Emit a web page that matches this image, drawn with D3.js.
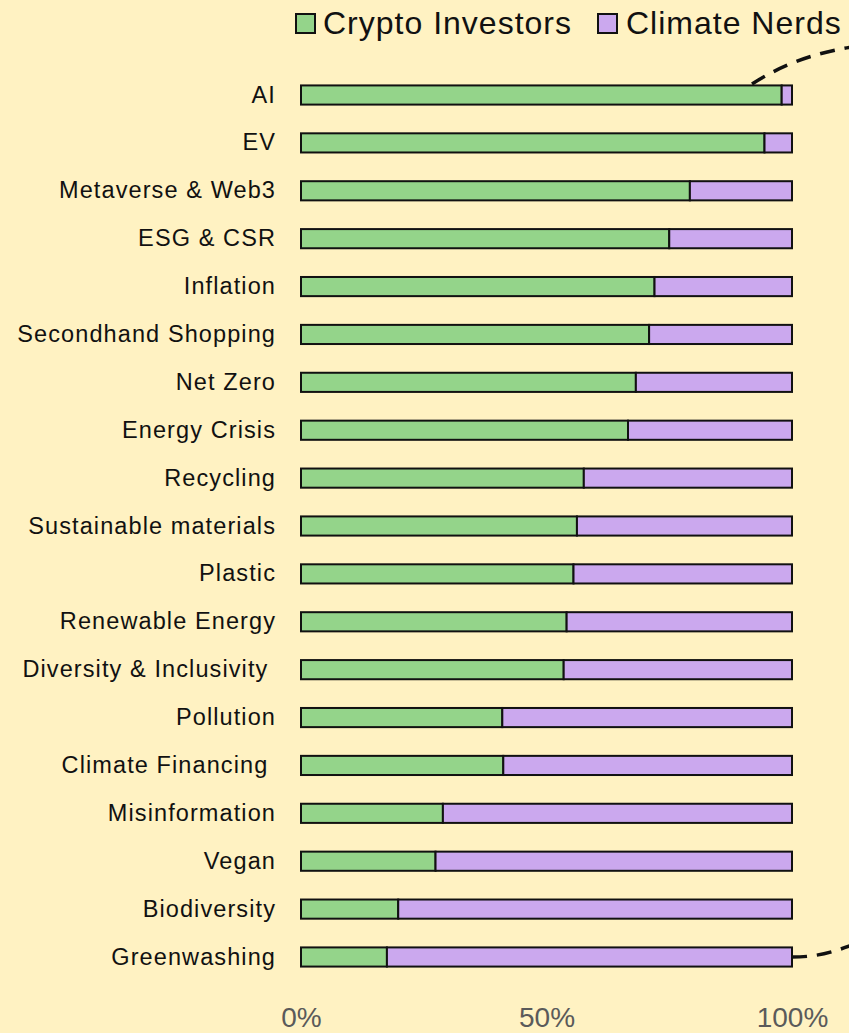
<!DOCTYPE html>
<html>
<head>
<meta charset="utf-8">
<script src="https://cdn.jsdelivr.net/npm/d3@7"></script>
<style>
  html, body { margin: 0; padding: 0; background: #FFF2C2; }
  svg { display: block; }
  text { font-family: "Liberation Sans", Arial, sans-serif; }
</style>
</head>
<body>
<svg id="chart" width="849" height="1033"></svg>
<script>
// Topics, top to bottom
const topics = [
  "AI", "EV", "Metaverse & Web3", "ESG & CSR", "Inflation",
  "Secondhand Shopping", "Net Zero", "Energy Crisis", "Recycling",
  "Sustainable materials", "Plastic", "Renewable Energy",
  "Diversity & Inclusivity ", "Pollution", "Climate Financing ",
  "Misinformation", "Vegan", "Biodiversity", "Greenwashing"
];

// Share of mentions by crypto investors (the rest belongs to climate nerds)
const cryptoShare = [
  0.979, 0.944, 0.792, 0.750, 0.720,
  0.709, 0.682, 0.666, 0.576,
  0.562, 0.555, 0.541,
  0.535, 0.410, 0.412,
  0.289, 0.274, 0.198, 0.175
];
const climateShare = cryptoShare.map(v => 1 - v);

const seriesNames = ["Crypto Investors", "Climate Nerds"];
const seriesColors = ["#94D48A", "#CBA8EE"];
const tickValues = [0, 0.5, 1];
const tickLabels = ["0%", "50%", "100%"];

const svg = d3.select("#chart");
const W = 849, H = 1033;

svg.append("rect").attr("width", W).attr("height", H).attr("fill", "#FFF2C2");

const x = d3.scaleLinear().domain([0, 1]).range([301, 792]);
const y = d3.scaleBand().domain(topics).range([56.7, 995.3]).paddingInner(0.6).paddingOuter(0.6);

const rows = topics.map((t, i) => ({ topic: t, values: [cryptoShare[i], climateShare[i]] }));
const stacked = d3.stack().keys([0, 1]).value((d, k) => d.values[k])(rows);

const g = svg.append("g");
stacked.forEach((layer, k) => {
  g.append("g")
    .selectAll("rect")
    .data(layer)
    .join("rect")
    .attr("x", d => x(d[0]))
    .attr("y", d => y(d.data.topic))
    .attr("width", d => x(d[1]) - x(d[0]))
    .attr("height", y.bandwidth())
    .attr("fill", seriesColors[k])
    .attr("stroke", "#111")
    .attr("stroke-width", 2);
});

// Category labels
const yAxis = svg.append("g")
  .attr("transform", `translate(${x(0)},0)`)
  .call(d3.axisLeft(y).tickSize(0).tickPadding(25));
yAxis.select(".domain").remove();
yAxis.selectAll("text")
  .attr("font-family", "Liberation Sans, Arial, sans-serif")
  .attr("font-size", 23.5)
  .attr("letter-spacing", "1.1px")
  .attr("fill", "#111")
  .style("white-space", "pre");

// Percent axis
const xAxis = svg.append("g")
  .attr("transform", "translate(0,1000)")
  .call(d3.axisBottom(x).tickValues(tickValues).tickSize(0).tickPadding(0)
    .tickFormat((d, i) => tickLabels[i]));
xAxis.select(".domain").remove();
xAxis.selectAll("text")
  .attr("font-family", "Liberation Sans, Arial, sans-serif")
  .attr("font-size", 28)
  .attr("fill", "#5a5a5a")
  .attr("dy", 0)
  .attr("y", 27);

// Legend
const legendItems = [
  { name: seriesNames[0], color: seriesColors[0], sx: 296, tx: 323 },
  { name: seriesNames[1], color: seriesColors[1], sx: 598, tx: 626 }
];
const legend = svg.append("g");
legendItems.forEach(item => {
  legend.append("rect")
    .attr("x", item.sx).attr("y", 14).attr("width", 19).attr("height", 19)
    .attr("fill", item.color).attr("stroke", "#111").attr("stroke-width", 2);
  legend.append("text")
    .attr("x", item.tx).attr("y", 34)
    .attr("font-size", 32)
    .attr("letter-spacing", "1px")
    .attr("fill", "#111")
    .text(item.name);
});

// Dashed bracket running off the right edge
const brace = svg.append("g")
  .attr("fill", "none")
  .attr("stroke", "#111")
  .attr("stroke-width", 3.5)
  .attr("stroke-dasharray", "15,10");
brace.append("path").attr("d", "M752,84 C790,60 830,46 900,42");
brace.append("path").attr("d", "M792,957 C820,957 840,952 900,925");
</script>
</body>
</html>
